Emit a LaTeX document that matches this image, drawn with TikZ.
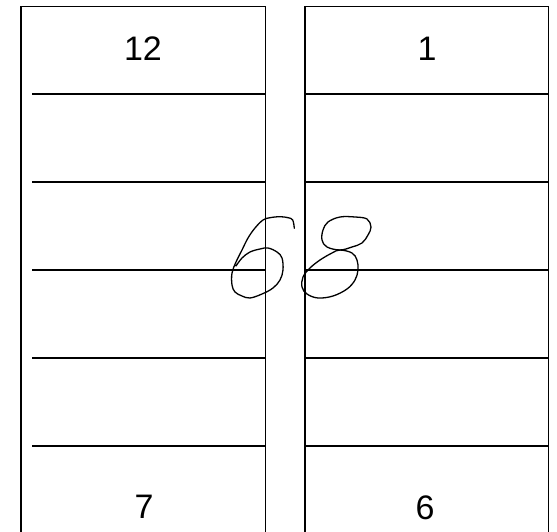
\documentclass[tikz,border=0pt]{standalone}
\usepackage{fontspec}
\setmainfont{Liberation Sans}
\begin{document}
\begin{tikzpicture}[x=1pt,y=-1pt,
  wall/.style={line width=1.6pt,line cap=rect},
  cell/.style={line width=1.5pt},
  hand/.style={line width=1.3pt,line join=round,line cap=round},
  lbl/.style={font=\fontsize{34}{34}\selectfont,inner sep=0pt}]
\useasboundingbox (0,0) rectangle (557,532);
% left column
\draw[wall] (21,540) -- (21,6.5) -- (265.5,6.5) -- (265.5,540);
\foreach \y in {94,182,270,358,446} \draw[cell] (32,\y) -- (265.5,\y);
% right column
\draw[wall] (305,540) -- (305,6.5) -- (548.5,6.5) -- (548.5,540);
\foreach \y in {94,182,270,358,446} \draw[cell] (305,\y) -- (548.5,\y);
% labels
\node[lbl] (t12) at (143,49) {12};
\node[lbl] (t1) at (427,49) {1};
\node[lbl] (t7) at (144,507) {7};
\node[lbl] (t6) at (425,508) {6};
% handwritten 6
\draw[hand] plot[smooth,tension=0.6] coordinates {(294.3,228.3) (292.7,220) (288,217.7) (280,216.7) (270,217.7) (263,220) (255,228) (248,238) (242,250) (236,262) (232,273) (232,285) (235,292) (242,296) (250,298) (262,294) (273,288) (280,280) (283,270) (282,258) (277,252) (268,248) (260,249) (250,252) (242,258) (236,266)};
% handwritten 8
\draw[hand] plot[smooth cycle,tension=0.6] coordinates {(340,250) (327,247) (322,240) (323,230) (328,222) (340,217) (355,217) (367,219) (371,227) (368,235) (362,243) (352,247)};
\draw[hand] plot[smooth cycle,tension=0.6] coordinates {(340,250) (352,253) (357,260) (358,270) (355,280) (347,289) (333,296) (318,298) (307,294) (302,287) (303,277) (310,268) (320,260) (332,253)};
\end{tikzpicture}
\end{document}
